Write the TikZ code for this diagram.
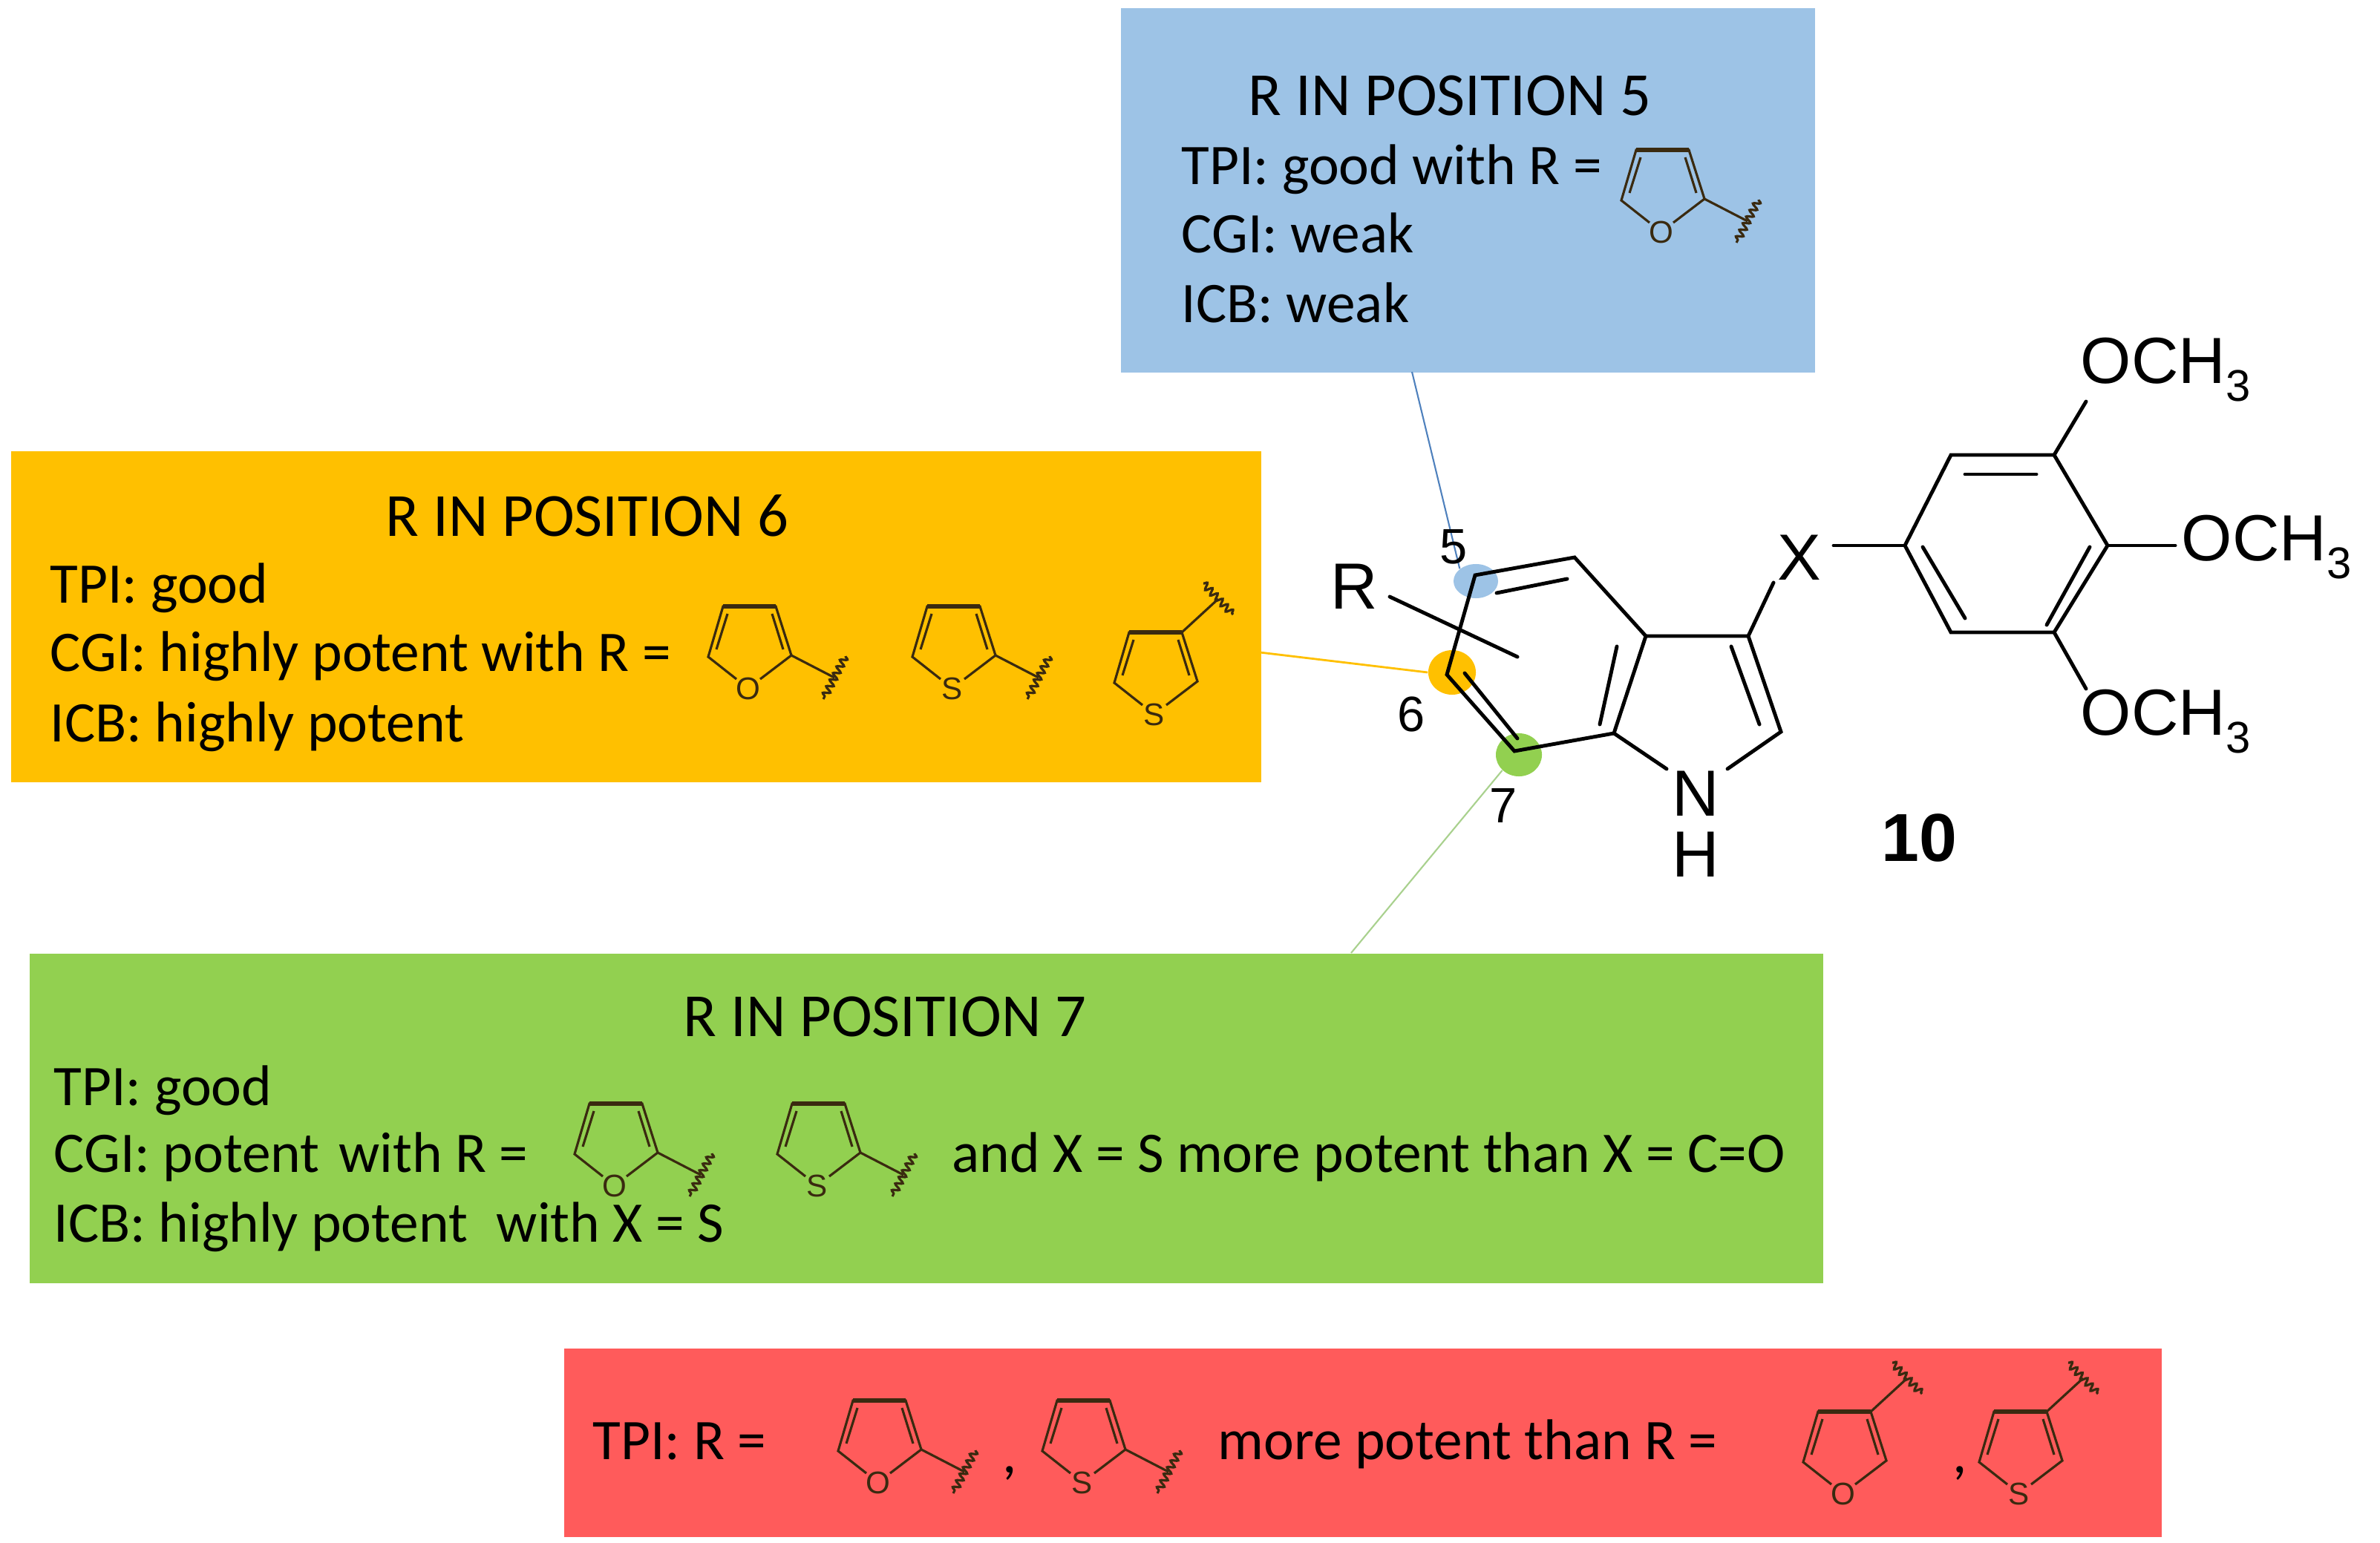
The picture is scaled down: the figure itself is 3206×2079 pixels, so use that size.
\documentclass[tikz,border=0pt]{standalone}
\usepackage{fontspec}
\setmainfont{Carlito}
\newfontfamily\arialf{Liberation Sans}
\usetikzlibrary{shapes.geometric,decorations.pathmorphing}
\definecolor{cblue}{HTML}{9DC3E6}
\definecolor{corange}{HTML}{FFC000}
\definecolor{cgreen}{HTML}{92D050}
\definecolor{cred}{HTML}{FF5B5B}
\definecolor{lblue}{HTML}{4F81BD}
\definecolor{lgreen}{HTML}{A9D18E}
\definecolor{inkc}{HTML}{3A2A10}
\newcommand\subthr{\raisebox{-0.28em}{\fontsize{17}{20}\selectfont 3}}
\tikzset{
  box/.style={draw=none,rectangle,anchor=north west,inner sep=0pt},
  txt/.style={anchor=west,inner sep=0pt,text height=1.4ex,text depth=0.3ex,yshift=-0.1cm,font=\fontsize{22}{26}\selectfont},
  ttl/.style={anchor=center,inner sep=0pt,font=\fontsize{23.5}{28}\selectfont},
  bond/.style={line width=1.4pt,line cap=round},
  gl/.style={line width=0.9pt,draw=inkc},
  atom/.style={inner sep=0pt,font=\arialf\fontsize{25}{29}\selectfont},
  num/.style={inner sep=0pt,font=\arialf\fontsize{19}{22}\selectfont},
  dot/.style={ellipse,draw=none,inner sep=0pt},
  wave/.style={gl,decorate,decoration={snake,segment length=0.1cm,amplitude=0.045cm}}
}
\newcommand\hetring[3]{%
  \begin{scope}[shift={(#1,#2)}]
    \draw[gl] (-18,45) -- (-56,15) -- (-36,-53) -- (35,-53) -- (56,13) -- (14,45);
    \draw[gl,line width=1.6pt] (-36,-53) -- (35,-53);
    \draw[gl] (-45,5) -- (-30,-43);
    \draw[gl] (30,-43) -- (45,5);
    \node[inner sep=0pt,text=inkc,font=\arialf\fontsize{12}{14}\selectfont] at (-2,58) {#3};
  \end{scope}}
\newcommand\subtwo[2]{%
  \begin{scope}[shift={(#1,#2)}]
    \draw[gl] (56,13) -- (114,43);
    \draw[wave] (129,14) -- (99,72);
  \end{scope}}
\newcommand\subthree[2]{%
  \begin{scope}[shift={(#1,#2)}]
    \draw[gl] (35,-53) -- (84,-98);
    \draw[wave] (64,-119) -- (104,-77);
  \end{scope}}
\begin{document}
\begin{tikzpicture}[x=0.01cm,y=-0.01cm]
\useasboundingbox[fill=white] (0,0) rectangle (3206,2079);
\node[box,fill=cblue,minimum width=9.35cm,minimum height=4.91cm] (bb) at (1509,10) {};
\node[box,fill=corange,minimum width=16.83cm,minimum height=4.46cm] (ob) at (14,607) {};
\node[box,fill=cgreen,minimum width=24.15cm,minimum height=4.44cm] (gb) at (39,1284) {};
\node[box,fill=cred,minimum width=21.51cm,minimum height=2.54cm] (rb) at (759,1816) {};
% blue text
\node[ttl] (bt) at (1953,129) {R IN POSITION 5};
\node[txt] (b1) at (1591,229) {TPI: good with R =};
\node[txt] (b2) at (1591,321) {CGI: weak};
\node[txt] (b3) at (1591,415) {ICB: weak};
\hetring{2240}{255}{O}\subtwo{2240}{255}
% orange text
\node[ttl] (ot) at (791,695) {R IN POSITION 6};
\node[txt] (o1) at (67,793) {TPI: good};
\node[txt] (o2) at (67,885) {CGI: highly potent with R =};
\node[txt] (o3) at (67,980) {ICB: highly potent};
\hetring{1010}{870}{O}\subtwo{1010}{870}
\hetring{1285}{870}{S}\subtwo{1285}{870}
\hetring{1557}{905}{S}\subthree{1557}{905}
% green text
\node[ttl] (gt) at (1192,1370) {R IN POSITION 7};
\node[txt] (g1) at (72,1470) {TPI: good};
\node[txt] (g2) at (72,1560) {CGI: potent\,\,with R =};
\node[txt] (g3) at (72,1654) {ICB: highly potent\,\,\,with X = S};
\hetring{830}{1540}{O}\subtwo{830}{1540}
\hetring{1103}{1540}{S}\subtwo{1103}{1540}
\node[txt] (g4) at (1282,1560) {and X = S more potent than X = C=O};
% red text
\node[txt] (r1) at (798,1947) {TPI: R =};
\hetring{1185}{1940}{O}\subtwo{1185}{1940}
\node[txt] (rc1) at (1350,1965) {,};
\hetring{1460}{1940}{S}\subtwo{1460}{1940}
\node[txt] (r2) at (1640,1947) {more potent than R =};
\hetring{2485}{1955}{O}\subthree{2485}{1955}
\node[txt] (rc2) at (2630,1965) {,};
\hetring{2722}{1955}{S}\subthree{2722}{1955}
% position dots
\node[dot,fill=cblue,minimum width=0.6cm,minimum height=0.46cm] (d5) at (1988,783) {};
\node[dot,fill=corange,minimum width=0.64cm,minimum height=0.6cm] (d6) at (1956,906) {};
\node[dot,fill=cgreen,minimum width=0.62cm,minimum height=0.58cm] (d7) at (2046,1017) {};
\coordinate (lb) at (1902,501);
\coordinate (lo) at (1697,879);
\coordinate (lg) at (1820,1284);
\draw[lblue,line width=0.6pt] (lb) -- (d5.north west);
\draw[corange,line width=0.8pt] (lo) -- (d6.west);
\draw[lgreen,line width=0.6pt] (lg) -- (d7.south west);
% molecule
\coordinate (c5) at (1987,775);
\coordinate (c4) at (2121,751);
\coordinate (c3a) at (2217,857);
\coordinate (c7a) at (2174,988);
\coordinate (c7) at (2040,1012);
\coordinate (c6) at (1949,909);
\coordinate (c3) at (2355,857);
\coordinate (c2) at (2399,986);
\draw[bond] (c5) -- (c4) -- (c3a) -- (c7a) -- (c7) -- (c6) -- cycle;
\draw[bond] (2016,799) -- (2111,780);
\draw[bond] (1973,907) -- (2044,995);
\draw[bond] (2178,871) -- (2155,976);
\draw[bond] (c3a) -- (c3) -- (c2) -- (2327,1036);
\draw[bond] (c7a) -- (2245,1036);
\draw[bond] (2332,871) -- (2370,976);
\node[atom] (nN) at (2284,1069) {N};
\node[atom] (nH) at (2284,1151) {H};
\node[atom] (nX) at (2424,751) {X};
\draw[bond] (c3) -- (2389,785);
\coordinate (p1) at (2566,735);
\coordinate (p2) at (2628,613);
\coordinate (p3) at (2767,613);
\coordinate (p4) at (2839,735);
\coordinate (p5) at (2767,852);
\coordinate (p6) at (2628,852);
\draw[bond] (2470,735) -- (p1);
\draw[bond] (p1) -- (p2) -- (p3) -- (p4) -- (p5) -- (p6) -- cycle;
\draw[bond] (2647,639) -- (2743,639);
\draw[bond] (2815,737) -- (2757,842);
\draw[bond] (2590,737) -- (2647,833);
\draw[bond] (p3) -- (2810,541);
\draw[bond] (p4) -- (2930,735);
\draw[bond] (p5) -- (2810,928);
\node[atom,anchor=west] (m1) at (2802,498) {OCH\subthr};
\node[atom,anchor=west] (m2) at (2938,737) {OCH\subthr};
\node[atom,anchor=west] (m3) at (2802,972) {OCH\subthr};
\node[atom] (nR) at (1824,790) {R};
\draw[bond] (1872,804) -- (2044,885);
\node[num] (n5) at (1958,737) {5};
\node[num] (n6) at (1901,962) {6};
\node[num] (n7) at (2025,1086) {7};
\node[atom,font=\arialf\bfseries\fontsize{26}{30}\selectfont] (n10) at (2585,1129) {10};
\end{tikzpicture}
\end{document}
